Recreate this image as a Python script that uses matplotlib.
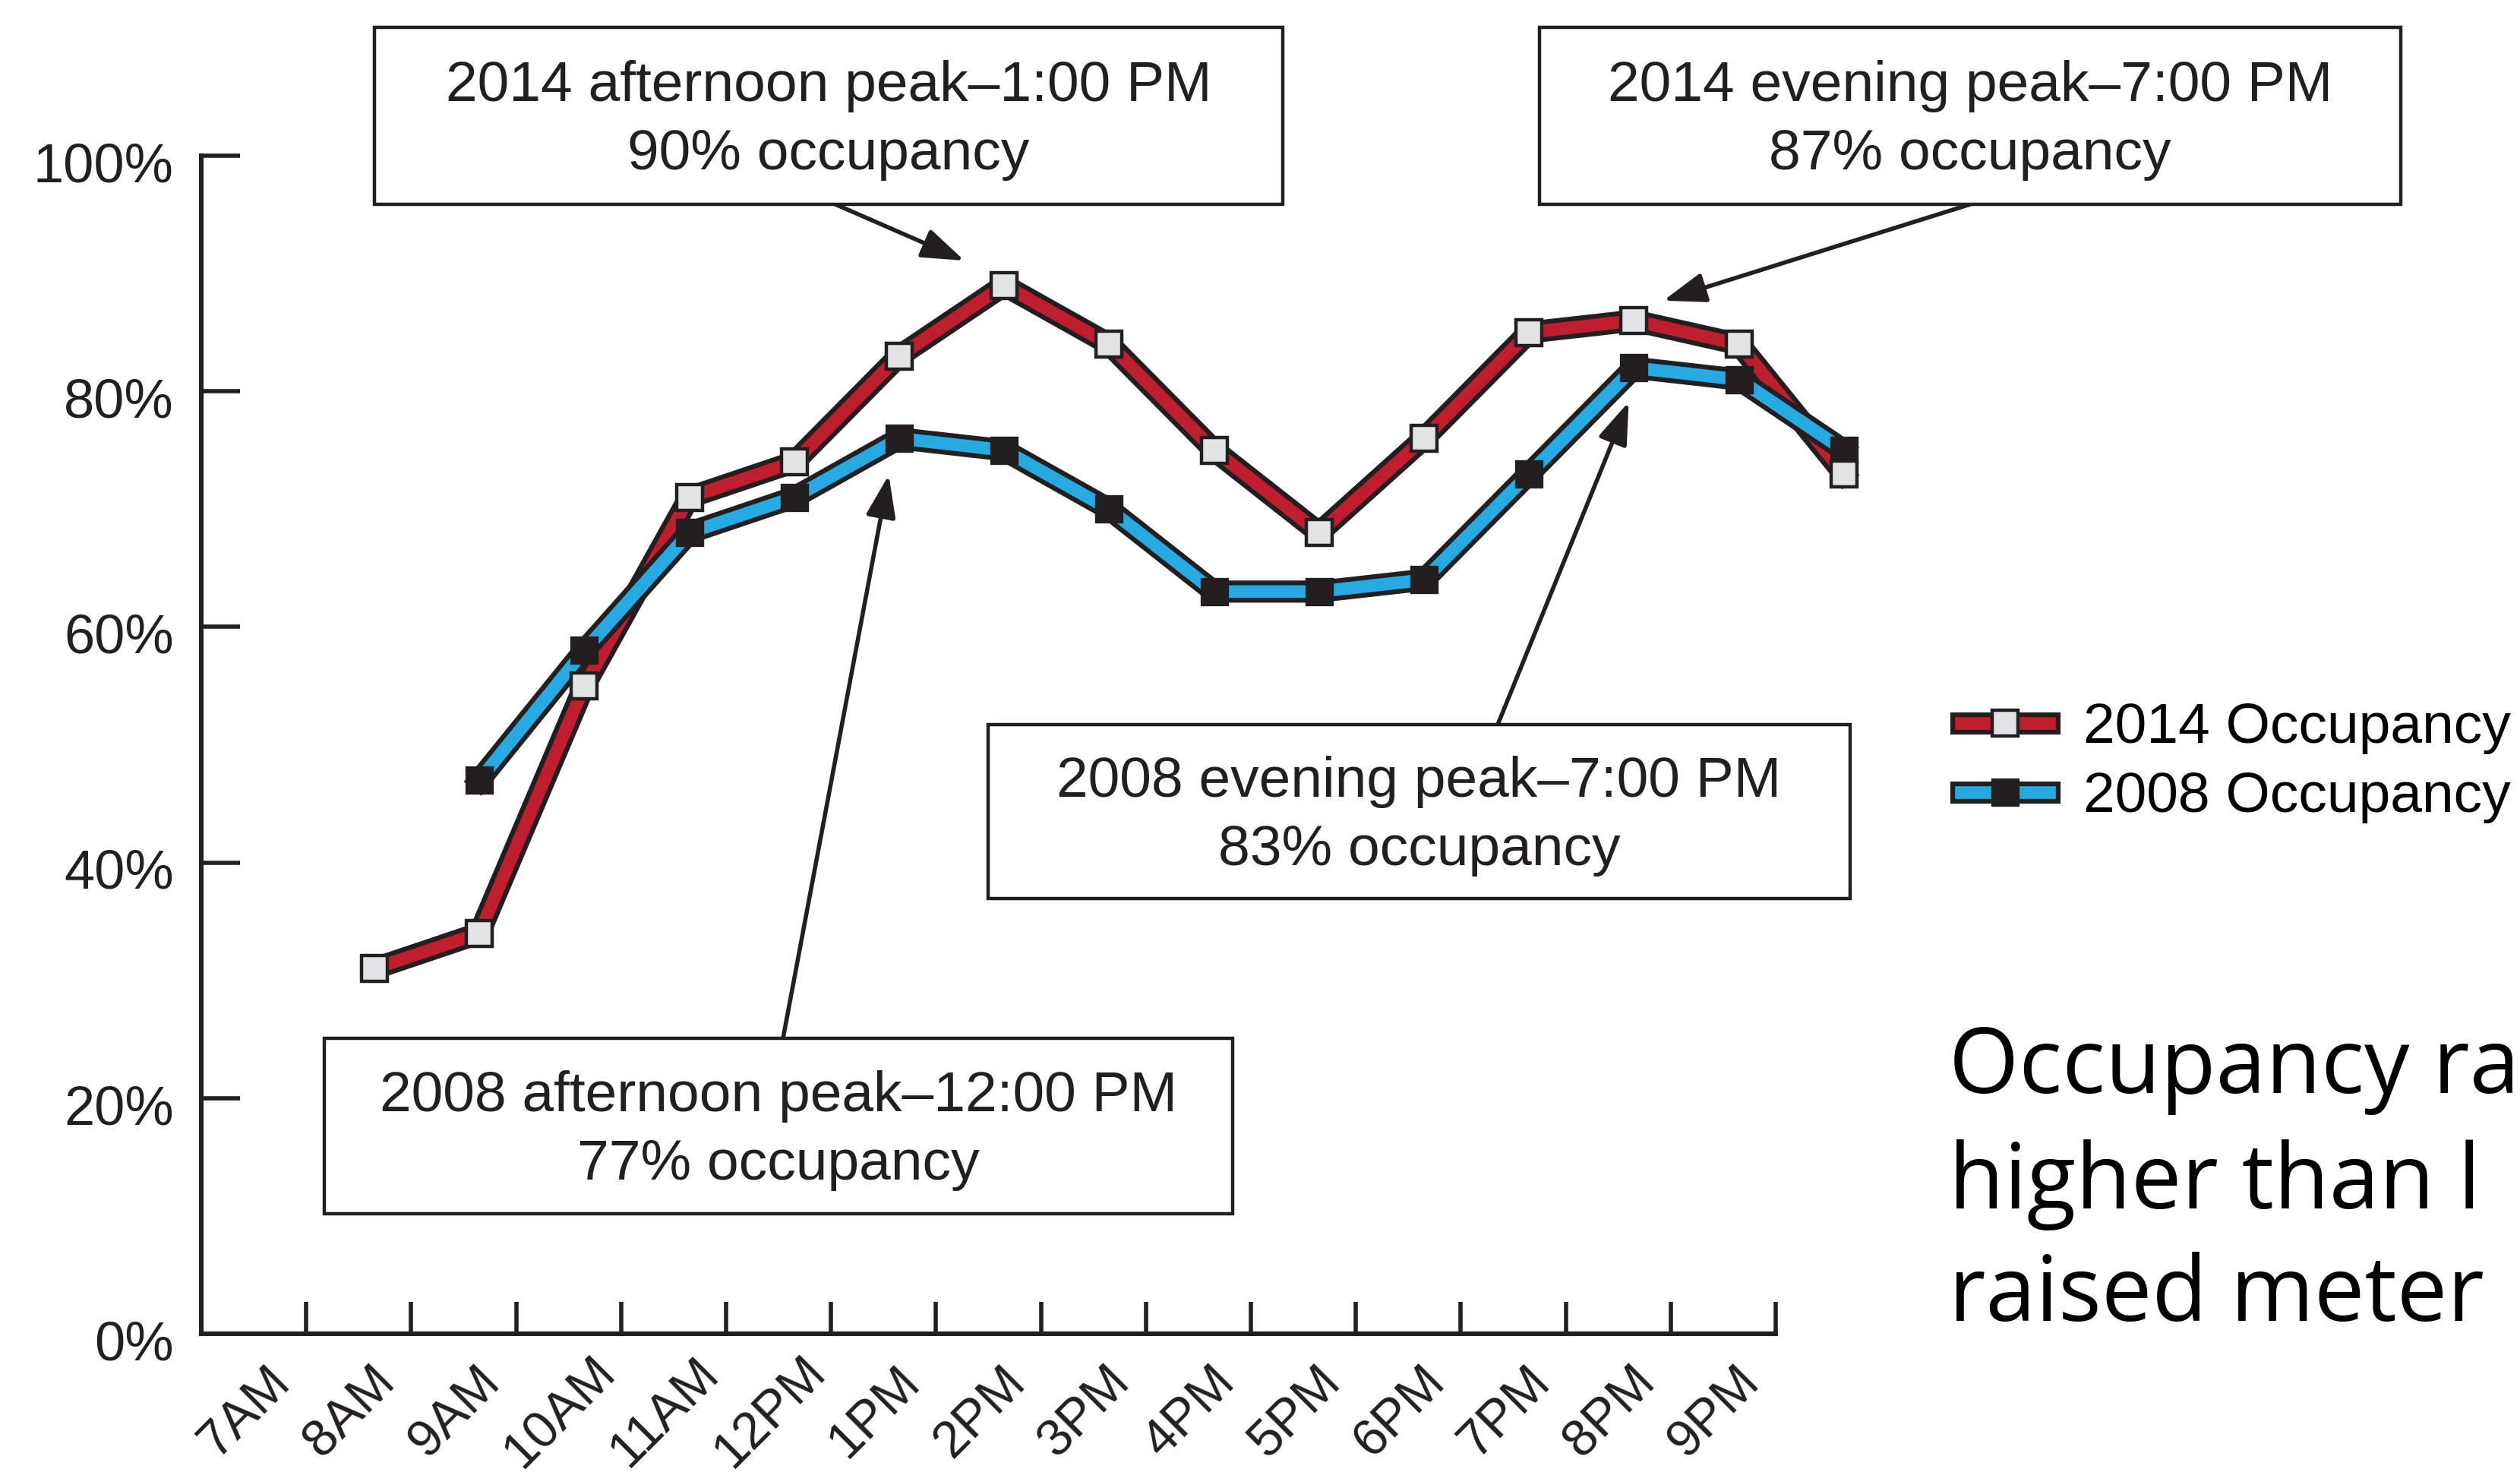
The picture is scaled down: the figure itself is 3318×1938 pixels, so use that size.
import matplotlib
matplotlib.use("Agg")
import matplotlib.pyplot as plt
import matplotlib.patheffects as pe
from matplotlib.patches import Rectangle
from matplotlib.transforms import ScaledTranslation

plt.rcParams["font.family"] = ["Liberation Sans", "DejaVu Sans"]

# data
tick_hours = [7, 8, 9, 10, 11, 12, 13, 14, 15, 16, 17, 18, 19, 20, 21]
tick_labels = ["7AM", "8AM", "9AM", "10AM", "11AM", "12PM", "1PM", "2PM",
               "3PM", "4PM", "5PM", "6PM", "7PM", "8PM", "9PM"]
hours_2014 = [7.65, 8.65, 9.65, 10.65, 11.65, 12.65, 13.65, 14.65,
              15.65, 16.65, 17.65, 18.65, 19.65, 20.65, 21.65]
occ_2014 = [31, 34, 55, 71, 74, 83, 89, 84, 75, 68, 76, 85, 86, 84, 73]
hours_2008 = [8.65, 9.65, 10.65, 11.65, 12.65, 13.65, 14.65,
              15.65, 16.65, 17.65, 18.65, 19.65, 20.65, 21.65]
occ_2008 = [47, 58, 68, 71, 76, 75, 70, 63, 63, 64, 73, 82, 81, 75]

y_ticks = [0, 20, 40, 60, 80, 100]
y_labels = ["0%", "20%", "40%", "60%", "80%", "100%"]

# callouts: text, box (x0, y0, x1, y1 in px from top-left), arrow start px, arrow tip (hour, %)
callouts = [
    ("2014 afternoon peak\u20131:00 PM\n90% occupancy", (493, 36, 1689, 269), (1100, 269), (13.27, 91.1)),
    ("2014 evening peak\u20137:00 PM\n87% occupancy", (2027, 36, 3161, 269), (2594, 269), (19.93, 87.7)),
    ("2008 evening peak\u20137:00 PM\n83% occupancy", (1301, 954, 2436, 1183), (1972, 954), (19.60, 79.1)),
    ("2008 afternoon peak\u201312:00 PM\n77% occupancy", (427, 1367, 1623, 1598), (1031, 1367), (12.55, 72.9)),
]

# only the part of the side note that is visible in the source image
note_lines = ["Occupancy ra", "higher than l", "raised meter"]

W, H = 3318, 1938
RED = "#be1e2d"
BLUE = "#27aae1"
INK = "#231f20"
PALE = "#e1e3e5"


def fx(x):
    return x / W


def fy(y):
    return 1 - y / H


fig = plt.figure(figsize=(W / 200, H / 200), dpi=200)
ax = fig.add_axes([fx(265), fy(1756), 16 * 138.2 / W, (1756 - 205) / H])

outline = [pe.Stroke(linewidth=10.5, foreground=INK), pe.Normal()]
l14, = ax.plot(hours_2014, occ_2014, color=RED, lw=6, solid_joinstyle="miter",
               path_effects=outline, clip_on=False, zorder=3)
l08, = ax.plot(hours_2008, occ_2008, color=BLUE, lw=6, solid_joinstyle="miter",
               path_effects=outline, clip_on=False, zorder=4)
m08, = ax.plot(hours_2008, occ_2008, ls="none", marker="s", ms=12, mfc=INK,
               mec=INK, mew=1.2, clip_on=False, zorder=5)
m14, = ax.plot(hours_2014, occ_2014, ls="none", marker="s", ms=12, mfc=PALE,
               mec=INK, mew=1.6, clip_on=False, zorder=6)

ax.set_xlim(6, 22)
ax.set_ylim(0, 100)
for s in ["top", "right"]:
    ax.spines[s].set_visible(False)
ax.spines["left"].set_bounds(0, 100)
ax.spines["bottom"].set_bounds(6, 21)
for s in ["left", "bottom"]:
    ax.spines[s].set_linewidth(2.2)
    ax.spines[s].set_color(INK)

ax.set_xticks(tick_hours)
ax.set_xticklabels(tick_labels, rotation=45, ha="center", va="center",
                   rotation_mode="anchor", fontsize=24.5)
ax.set_yticks(y_ticks)
ax.set_yticklabels(y_labels, fontsize=26)
ax.tick_params(axis="x", direction="in", length=15, width=2, pad=37, colors=INK)
ax.tick_params(axis="y", direction="in", length=18.5, width=2, pad=13, colors=INK)
xshift = ScaledTranslation(-29 / 72, 0, fig.dpi_scale_trans)
for lab in ax.get_xticklabels():
    lab.set_transform(lab.get_transform() + xshift)
yshift = ScaledTranslation(0, -3 / 72, fig.dpi_scale_trans)
for lab in ax.get_yticklabels():
    lab.set_transform(lab.get_transform() + yshift)

for text, (x0, y0, x1, y1), start, tip in callouts:
    fig.add_artist(Rectangle((fx(x0), fy(y1)), (x1 - x0) / W, (y1 - y0) / H,
                             transform=fig.transFigure, facecolor="white",
                             edgecolor=INK, lw=1.6, zorder=7))
    fig.text(fx((x0 + x1) / 2), fy((y0 + y1) / 2 + 6), text, ha="center", va="center",
             fontsize=27, color=INK, linespacing=1.38, zorder=8)
    ax.annotate("", xy=tip, xycoords="data",
                xytext=(fx(start[0]), fy(start[1])), textcoords="figure fraction",
                arrowprops=dict(arrowstyle="-|>,head_length=0.85,head_width=0.3",
                                mutation_scale=20, lw=2, color=INK,
                                shrinkA=0, shrinkB=0),
                annotation_clip=False, zorder=6)

ax.legend([(l14, m14), (l08, m08)], ["2014 Occupancy", "2008 Occupancy"],
          loc="center left", bbox_to_anchor=(fx(2582), fy(1004)),
          bbox_transform=fig.transFigure, frameon=False, fontsize=27,
          handlelength=1.55, handletextpad=0.6, labelspacing=0.3,
          borderpad=0, borderaxespad=0)

for line, base in zip(note_lines, [1439, 1591, 1739]):
    fig.text(fx(2566), fy(base), line, family="Open Sans", fontsize=42.7,
             va="baseline", ha="left", color="black")

fig.savefig("out.png", dpi=200)
